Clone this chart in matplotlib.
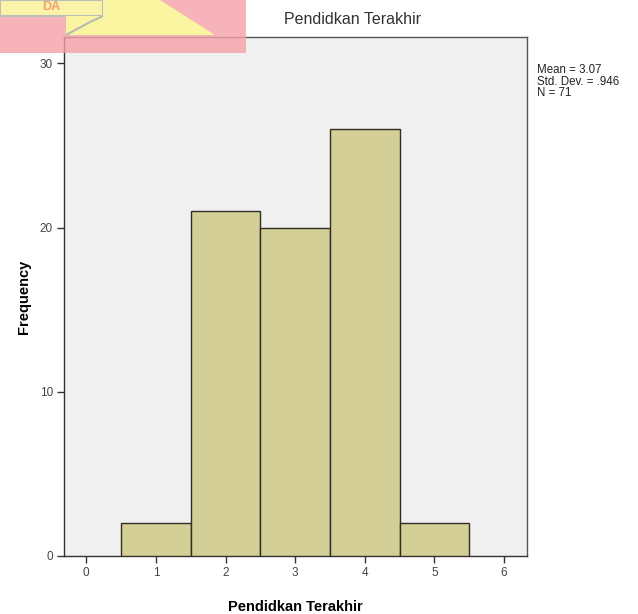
import numpy as np
import matplotlib.pyplot as plt
from matplotlib.patches import Polygon

# histogram data
categories = [1, 2, 3, 4, 5]
freqs = [2, 21, 20, 26, 2]
xticks = [0, 1, 2, 3, 4, 5, 6]
yticks = [0, 10, 20, 30]
stats_lines = ['Mean = 3.07', 'Std. Dev. = .946', 'N = 71']

plt.rcParams['font.family'] = ['Liberation Sans', 'DejaVu Sans']

W, H = 638, 614
fig = plt.figure(figsize=(W / 100, H / 100), dpi=100)
fig.patch.set_facecolor('white')

ax = fig.add_axes([64 / W, (H - 556) / H, (527 - 64) / W, (556 - 37) / H])
ax.set_facecolor('#f0f0f0')
ax.bar(categories, freqs, width=1.0, color='#d3cf96', edgecolor='#2e2e22', linewidth=1.0, zorder=3)

ax.set_xlim(-0.32, 6.33)
ax.set_ylim(0, 31.6)
ax.set_xticks(xticks)
ax.set_yticks(yticks)
ax.tick_params(axis='both', direction='out', length=5, width=1, color='#333333',
               labelsize=8.5, labelcolor='#444444', pad=3)
for s in ax.spines.values():
    s.set_color('#333333')
    s.set_linewidth(1.0)
ax.spines['right'].set_color('#555555')
ax.spines['top'].set_color('#555555')

ax.set_xlabel('Pendidkan Terakhir', fontsize=10.5, fontweight='bold', labelpad=15)
ax.set_ylabel('Frequency', fontsize=10.5, fontweight='bold', labelpad=6)

fig.text(352 / W, 1 - 20 / H, 'Pendidkan Terakhir', ha='center', va='center',
         fontsize=11.5, color='#333333')
fig.text(537 / W, 1 - 64 / H, '\n'.join(stats_lines), ha='left', va='top',
         fontsize=8.3, color='#222222', linespacing=0.95)

# watermark logo in the top left corner, drawn over the chart
def px(x, y):
    return (x / W, 1 - y / H)

wm = [
    Polygon([px(0, 0), px(246, 0), px(246, 53), px(0, 53)], closed=True,
            facecolor='#f4a0a8', alpha=0.8, edgecolor='none'),
    Polygon([px(0, 0), px(103, 0), px(103, 16), px(0, 16)], closed=True,
            facecolor='#fbf4a8', edgecolor='#bdbdbd', linewidth=1.5),
    Polygon([px(66, 16), px(103, 16), px(103, 0), px(160, 0), px(215, 35),
             px(66, 35)], closed=True, facecolor='#fbf4a0', edgecolor='none'),
    Polygon([px(66, 35), px(90, 22), px(103, 16)], closed=False, fill=False,
            edgecolor='#b8b8b8', linewidth=1.5),
]
for p in wm:
    p.set_transform(fig.transFigure)
    p.set_zorder(10)
    fig.patches.append(p)
fig.text(42 / W, 1 - 7 / H, 'DA', ha='left', va='center', fontsize=9,
         fontweight='bold', color='#f08a70', alpha=0.8, zorder=11)

fig.savefig('out.png', dpi=100)
